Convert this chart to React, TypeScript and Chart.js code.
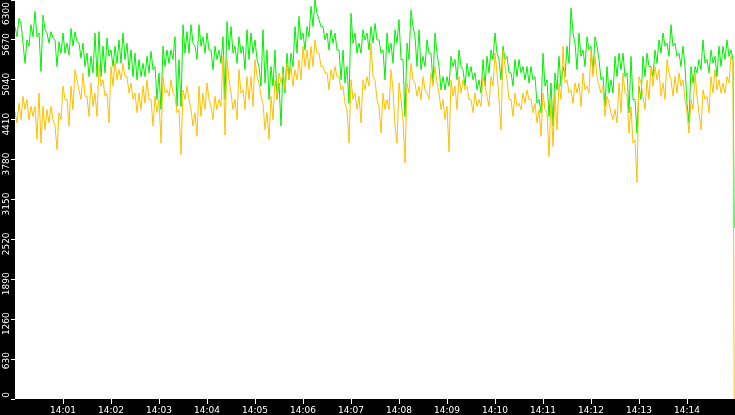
import React, { useEffect, useRef } from 'react';
import { Chart, registerables } from 'chart.js';

Chart.register(...registerables);

// samples every 2.5 s from 14:00:00 (high / low of each 5 s slot), last one at 14:14:59
const STEP_SECONDS = 2.5;
const LAST_SECOND = 899;

const GREEN_VALUES = [
  // 14:00:00 - 14:03:45
  5880, 5720, 6010, 5930, 5620, 5300, 5670, 5570, 5910, 5720, 6120, 5720, 5780, 5170, 6060, 5830, 5780, 5620, 5800, 5700,
  5670, 5250, 5640, 5460, 5780, 5460, 5620, 5430, 5850, 5570, 5800, 5640, 5620, 5380, 5620, 5250, 5460, 5090, 5410, 5150,
  5780, 5090, 5800, 5090, 5570, 5150, 5700, 5410, 5510, 5250, 5570, 5300, 5670, 5300, 5780, 5360, 5620, 5200, 5510, 5090,
  5460, 5040, 5360, 5090, 5300, 5090, 5410, 5150, 5490, 5200, 5250, 4730, 5150, 4570, 5570, 5250, 5510, 5300, 5510, 5360,
  5720, 4620, 5360, 4620, 5910, 5460, 5800, 5460, 5910, 5620,
  // 14:03:45 - 14:07:30
  5570, 5360, 5910, 5570, 5720, 5460, 5780, 5510, 5510, 5200, 5570, 5360, 5510, 5300, 5720, 4730, 5960, 5510, 5880, 5460,
  5570, 5300, 5720, 5460, 5570, 5200, 5830, 5360, 5780, 5460, 5670, 5360, 5250, 4940, 5830, 4990, 5510, 4730, 5250, 4940,
  5510, 4730, 4990, 4310, 5250, 4830, 5460, 5040, 5460, 5250, 5880, 5460, 6040, 5670, 5780, 5510, 5880, 5720, 6200, 5880,
  6300, 6090, 5990, 5880, 5880, 5670, 5780, 5510, 5830, 5620, 5780, 5510, 5510, 5040, 5510, 4990, 5250, 4670, 6090, 5620,
  5780, 5460, 5620, 5460, 5830, 5670, 5780, 5510, 5880, 5620,
  // 14:07:30 - 14:11:15
  5930, 5670, 5670, 5460, 5510, 5040, 5780, 5460, 5620, 5300, 5830, 5620, 5990, 5360, 5360, 4460, 5620, 5360, 6140, 5880,
  5720, 5250, 5830, 5200, 5410, 5250, 5670, 5460, 5460, 4990, 5780, 5460, 5250, 4880, 5090, 4880, 5090, 4940, 5410, 5250,
  5360, 5040, 5510, 5250, 5200, 4940, 5300, 5090, 5250, 5040, 5150, 4880, 5040, 4830, 5360, 4940, 5410, 5150, 5510, 5360,
  5780, 5460, 5360, 5040, 5570, 5360, 5410, 5150, 5150, 4940, 5360, 5090, 5360, 5150, 5250, 5040, 5250, 4990, 5250, 5040,
  5090, 4670, 4730, 4520, 5460, 4940, 5040, 4460, 4990, 4310,
  // 14:11:15 - 14:15:00
  5150, 4880, 5410, 4940, 5250, 5090, 5570, 5300, 6170, 5780, 5620, 5200, 5780, 5410, 5510, 5250, 5720, 5510, 5570, 5150,
  5720, 5570, 5360, 5040, 5090, 4620, 5250, 4830, 5040, 4830, 5410, 5090, 5460, 5200, 5460, 5090, 5150, 4520, 5410, 4730,
  4730, 4200, 4940, 4730, 5410, 5090, 5460, 5250, 5250, 5090, 5510, 5300, 5670, 5460, 5780, 5570, 5620, 5410, 5910, 5570,
  5620, 5410, 5460, 5250, 5570, 5250, 4670, 4360, 5250, 4990, 5250, 5150, 5360, 5200, 5670, 5300, 5360, 5150, 5510, 5300,
  5410, 5090, 5570, 5250, 5570, 5360, 5670, 5410, 5510, 5360,
  2700,
];

const ORANGE_VALUES = [
  4540, 4360, 4670, 4410, 4780, 4570, 4730, 4410, 4620, 4460, 4620, 4100, 4830, 4040, 4620, 4250, 4570, 4360, 4620, 4410,
  4310, 3940, 4520, 4410, 4940, 4730, 4730, 4310, 4940, 4570, 5200, 5040, 4880, 4730, 5150, 4780, 4780, 4460, 4990, 4620,
  4830, 4460, 5280, 4940, 5040, 4780, 4830, 4360, 5250, 4940, 5330, 5040, 5200, 5040, 5300, 5090, 5090, 4830, 4990, 4730,
  4830, 4520, 4830, 4570, 4940, 4670, 5040, 4730, 4730, 4310, 4780, 4520, 4730, 4040, 5090, 4830, 4880, 4780, 5040, 4830,
  4780, 4520, 4570, 3860, 4880, 4730, 4940, 4730, 4570, 4310,

  4520, 4150, 4940, 4460, 4830, 4570, 4990, 4730, 4620, 4410, 4780, 4570, 4730, 4620, 5410, 4170, 5360, 5040, 4830, 4570,
  4730, 4410, 5200, 4830, 4880, 4570, 5090, 4730, 5090, 4620, 5360, 5090, 4990, 4780, 4670, 4250, 4520, 4100, 4780, 4410,
  5040, 4730, 5150, 4990, 5150, 4880, 5300, 5040, 5250, 4940, 5200, 5040, 5360, 5040, 5570, 5250, 5510, 5200, 5570, 5250,
  5670, 5460, 5460, 5250, 5250, 5150, 5150, 4880, 5200, 5040, 5250, 5090, 5090, 4880, 4940, 4670, 4570, 4040, 5040, 4730,
  4830, 4570, 4780, 4360, 5040, 4880, 5090, 4940, 5620, 5090,

  5040, 4730, 4620, 4200, 4830, 4570, 4730, 4570, 5200, 4880, 4310, 4040, 4990, 4730, 4410, 3730, 4990, 4830, 5300, 5040,
  4990, 4780, 4940, 4730, 5090, 4880, 4830, 4730, 5150, 4940, 5250, 4990, 4830, 4570, 4730, 4410, 4620, 3900, 5040, 4780,
  4940, 4570, 5090, 4830, 5040, 4880, 4940, 4730, 4730, 4520, 4830, 4620, 4730, 4620, 5090, 4940, 4780, 4620, 5090, 4940,
  5460, 5150, 4730, 4250, 5510, 5250, 5040, 4730, 4730, 4460, 4830, 4620, 4670, 4570, 4830, 4670, 4880, 4730, 4730, 4520,
  4670, 4360, 4570, 4150, 4830, 4570, 4520, 3830, 4730, 3990,

  4830, 4250, 4990, 4730, 5570, 4990, 5040, 4830, 4880, 4670, 4990, 4830, 4990, 4620, 5150, 4880, 4940, 4830, 5510, 5090,
  5410, 5090, 4940, 4830, 4940, 4460, 4780, 4670, 4520, 4410, 4570, 4360, 4990, 4520, 5150, 4830, 4780, 4200, 4620, 4040,
  4090, 3420, 5090, 4990, 4780, 4570, 5040, 4730, 5250, 4940, 5250, 5040, 5200, 4780, 4990, 4730, 5360, 5150, 5040, 4780,
  5090, 4830, 5150, 4940, 5040, 4730, 4520, 4200, 4730, 4570, 5150, 4780, 4520, 4250, 4880, 4730, 4780, 4520, 5090, 4830,
  5200, 4880, 5040, 4830, 4990, 4830, 5090, 4990, 5410, 5300,
  0,
];

const MINUTE_LABELS = [
  '14:01', '14:02', '14:03', '14:04', '14:05', '14:06', '14:07',
  '14:08', '14:09', '14:10', '14:11', '14:12', '14:13', '14:14',
];

const Y_MAX = 6300;
const Y_STEP = 630;

const toPoints = (values: number[]) =>
  values.map((v, i) => ({
    x: i === values.length - 1 ? LAST_SECOND : i * STEP_SECONDS,
    y: v,
  }));

const axisFont = { family: '"DejaVu Sans", sans-serif', size: 9 };

// black frame around a white plot area, and keep the top y label on screen
const plotFrame = {
  id: 'plotFrame',
  beforeDraw(chart: Chart) {
    const { ctx, chartArea, width, height } = chart;
    ctx.save();
    ctx.fillStyle = '#000';
    ctx.fillRect(0, 0, width, height);
    ctx.fillStyle = '#fff';
    ctx.fillRect(chartArea.left, chartArea.top, chartArea.right - chartArea.left, chartArea.bottom - chartArea.top);
    ctx.restore();

    const items: any[] = (chart.scales.y as any).getLabelItems();
    items.forEach((item) => {
      if (item.options.translation[1] < 2) item.options.translation[1] = 2;
    });
  },
};

const App: React.FC = () => {
  const chartRef = useRef<HTMLCanvasElement>(null);

  useEffect(() => {
    document.body.style.margin = '0';
    if (!chartRef.current) return;

    const chart = new Chart(chartRef.current, {
      type: 'line',
      data: {
        datasets: [
          {
            label: 'orange',
            data: toPoints(ORANGE_VALUES),
            borderColor: '#ffc000',
            borderWidth: 1,
            pointRadius: 0,
            tension: 0,
          },
          {
            label: 'green',
            data: toPoints(GREEN_VALUES),
            borderColor: '#00f000',
            borderWidth: 1,
            pointRadius: 0,
            tension: 0,
          },
        ],
      },
      options: {
        animation: false,
        responsive: false,
        events: [],
        layout: { padding: 0 },
        plugins: {
          legend: { display: false },
          tooltip: { enabled: false },
        },
        scales: {
          x: {
            type: 'linear',
            min: 0,
            max: 900,
            border: { display: false },
            grid: { drawOnChartArea: false, drawTicks: true, tickLength: 5, color: '#fff' },
            afterBuildTicks: (scale: any) => {
              scale.ticks = MINUTE_LABELS.map((_, i) => ({ value: (i + 1) * 60 }));
            },
            afterFit: (scale: any) => {
              scale.height = 16;
              scale.paddingLeft = 0;
              scale.paddingRight = 0;
            },
            ticks: {
              color: '#fff',
              font: axisFont,
              padding: 1,
              autoSkip: false,
              maxRotation: 0,
              callback: (v: any) => MINUTE_LABELS[Math.round(Number(v) / 60) - 1] ?? '',
            },
          },
          y: {
            min: 0,
            max: Y_MAX,
            border: { display: false },
            grid: { drawOnChartArea: false, drawTicks: true, tickLength: 4, color: '#fff' },
            afterFit: (scale: any) => {
              scale.width = 15;
              scale.paddingTop = 0;
              scale.paddingBottom = 0;
            },
            ticks: {
              stepSize: Y_STEP,
              color: '#fff',
              font: axisFont,
              padding: 4,
              autoSkip: false,
              minRotation: 90,
              maxRotation: 90,
              labelOffset: -7,
              callback: (v: any) => String(v),
            },
          },
        },
      },
      plugins: [plotFrame],
    });

    return () => {
      chart.destroy();
    };
  }, []);

  return (
    <div style={{ width: '735px', height: '415px', background: '#000' }}>
      <canvas ref={chartRef} width={735} height={415}></canvas>
    </div>
  );
};

export default App;
